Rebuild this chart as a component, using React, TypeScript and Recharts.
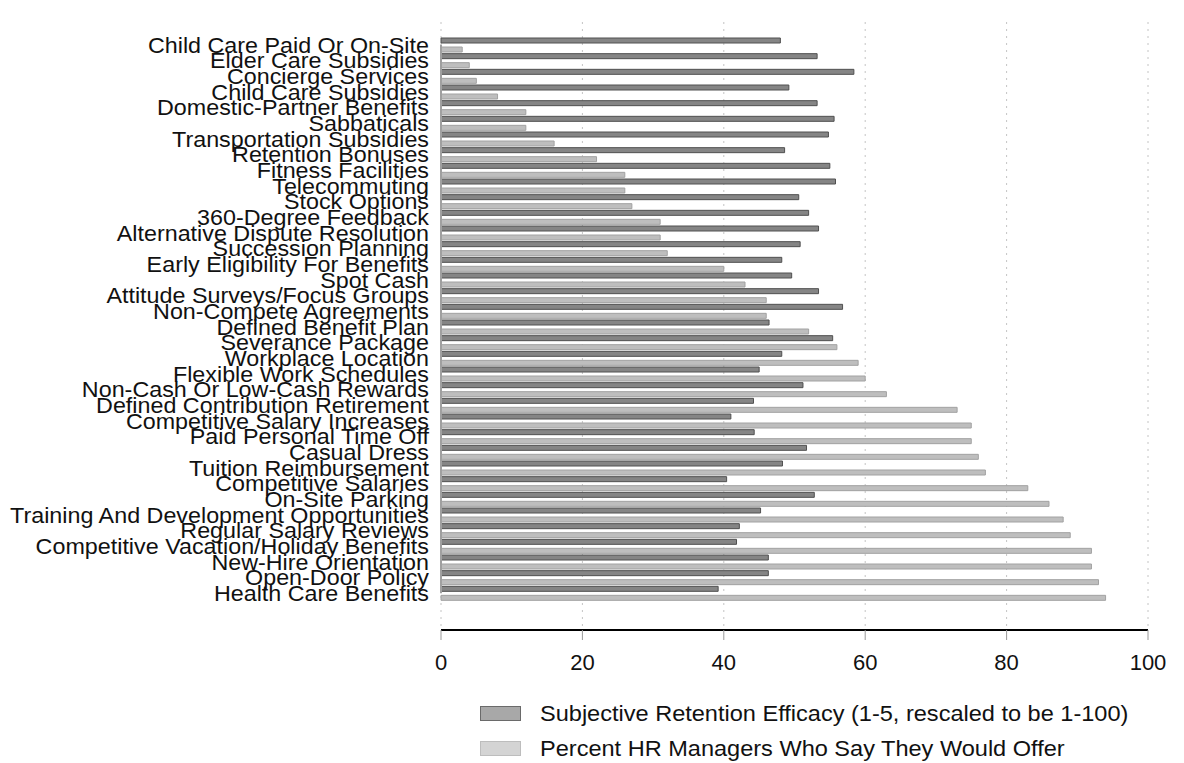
import React from 'react';
import { BarChart, Bar, XAxis, YAxis, CartesianGrid, ReferenceLine } from 'recharts';

const categories = [
  'Child Care Paid Or On-Site',
  'Elder Care Subsidies',
  'Concierge Services',
  'Child Care Subsidies',
  'Domestic-Partner Benefits',
  'Sabbaticals',
  'Transportation Subsidies',
  'Retention Bonuses',
  'Fitness Facilities',
  'Telecommuting',
  'Stock Options',
  '360-Degree Feedback',
  'Alternative Dispute Resolution',
  'Succession Planning',
  'Early Eligibility For Benefits',
  'Spot Cash',
  'Attitude Surveys/Focus Groups',
  'Non-Compete Agreements',
  'Defined Benefit Plan',
  'Severance Package',
  'Workplace Location',
  'Flexible Work Schedules',
  'Non-Cash Or Low-Cash Rewards',
  'Defined Contribution Retirement',
  'Competitive Salary Increases',
  'Paid Personal Time Off',
  'Casual Dress',
  'Tuition Reimbursement',
  'Competitive Salaries',
  'On-Site Parking',
  'Training And Development Opportunities',
  'Regular Salary Reviews',
  'Competitive Vacation/Holiday Benefits',
  'New-Hire Orientation',
  'Open-Door Policy',
  'Health Care Benefits',
];

// subjective retention efficacy, 1-5 rescaled to 1-100
const efficacy = [
  48.0, 53.2, 58.4, 49.2, 53.2, 55.6, 54.8, 48.6, 55.0, 55.8, 50.6, 52.0,
  53.4, 50.8, 48.2, 49.6, 53.4, 56.8, 46.4, 55.4, 48.2, 45.0, 51.2, 44.2,
  41.0, 44.3, 51.7, 48.3, 40.4, 52.8, 45.2, 42.2, 41.8, 46.3, 46.3, 39.2,
];

// percent of HR managers who would offer it
const offered = [
  3, 4, 5, 8, 12, 12, 16, 22, 26, 26, 27, 31,
  31, 32, 40, 43, 46, 46, 52, 56, 59, 60, 63, 73,
  75, 75, 76, 77, 83, 86, 88, 89, 92, 92, 93, 94,
];

const xTicks = [0, 20, 40, 60, 80, 100];

const series = [
  { key: 'efficacy', name: 'Subjective Retention Efficacy (1-5, rescaled to be 1-100)', fill: '#858585', stroke: '#505050', box: '#a8a8a8', boxBorder: '#6a6a6a' },
  { key: 'offered', name: 'Percent HR Managers Who Say They Would Offer', fill: '#bebebe', stroke: '#a2a2a2', box: '#d4d4d4', boxBorder: '#bdbdbd' },
];

const data = categories.map((name, i) => ({ name, efficacy: efficacy[i], offered: offered[i] }));

const font = "'Liberation Sans', Arial, sans-serif";

const CategoryTick = ({ x, y, payload }: any) => (
  <g transform={`translate(${x},${y})`}>
    <text x={0} y={0} dy="0.36em" textAnchor="end" fontSize={22} fill="#111" fontFamily={font} transform="scale(1.06,1)">
      {payload.value}
    </text>
  </g>
);

export default function App() {
  return (
    <div style={{ position: 'relative', width: 1176, height: 755, fontFamily: font }}>
      <BarChart
        width={1176}
        height={680}
        data={data}
        layout="vertical"
        margin={{ top: 14, right: 36, bottom: 0, left: 0 }}
        barSize={5}
        barGap={4}
      >
        <CartesianGrid horizontal={false} stroke="#c4c4c4" strokeDasharray="2 5" />
        <XAxis
          type="number"
          domain={[0, 100]}
          ticks={xTicks}
          height={58}
          axisLine={{ stroke: '#000', strokeWidth: 2 }}
          tickLine={{ stroke: '#999' }}
          tickSize={10}
          tickMargin={14}
          tick={{ fontSize: 22, fill: '#111', fontFamily: font }}
        />
        <YAxis
          type="category"
          dataKey="name"
          width={433}
          padding={{ top: 15, bottom: 29 }}
          axisLine={false}
          tickLine={false}
          tickSize={0}
          tickMargin={12}
          interval={0}
          tick={<CategoryTick />}
        />
        <ReferenceLine
          segment={[{ x: 0, y: categories[0] }, { x: 0, y: categories[categories.length - 1] }]}
          stroke="#a0a0a0"
          strokeWidth={2}
        />
        {series.map((s) => (
          <Bar key={s.key} dataKey={s.key} name={s.name} fill={s.fill} stroke={s.stroke} strokeWidth={1} isAnimationActive={false} />
        ))}
      </BarChart>
      <div style={{ position: 'absolute', left: 472, top: 698 }}>
        {series.map((s) => (
          <div key={s.key} style={{ display: 'flex', alignItems: 'center', height: 15, marginBottom: 20 }}>
            <div style={{ width: 39, height: 13, background: s.box, border: `1px solid ${s.boxBorder}`, marginRight: 19 }} />
            <span style={{ fontSize: 22, color: '#111', whiteSpace: 'nowrap', display: 'inline-block', transform: 'scaleX(1.07)', transformOrigin: 'left center' }}>
              {s.name}
            </span>
          </div>
        ))}
      </div>
    </div>
  );
}
